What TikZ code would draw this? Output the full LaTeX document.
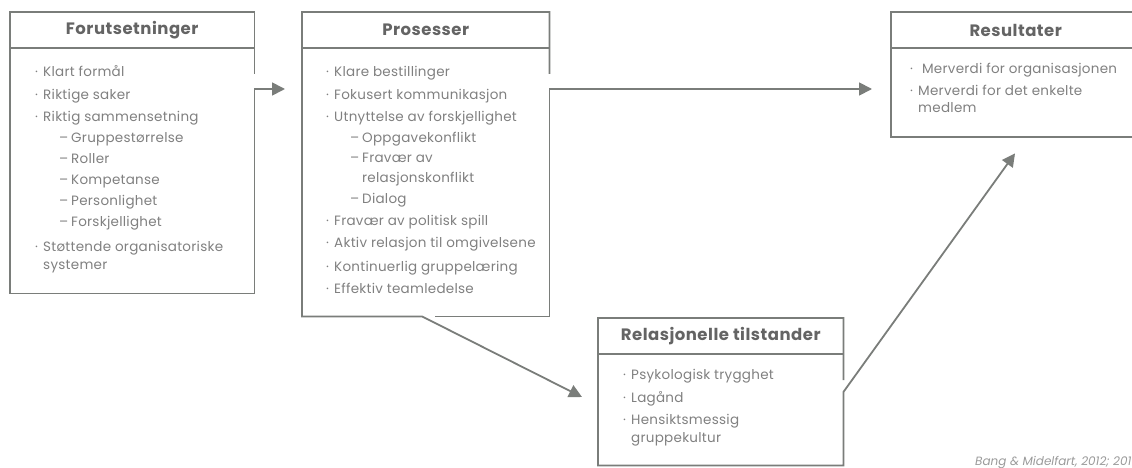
\documentclass[tikz,border=0pt]{standalone}
\usepackage{fontspec}
\setmainfont{Poppins}
\newfontfamily\bodyfont[LetterSpace = 2]{Poppins}
\newfontfamily\headfont[LetterSpace = 3]{Poppins}
\usetikzlibrary{arrows.meta}
\usetikzlibrary{positioning}
\usetikzlibrary{calc}
\definecolor{linegray}{RGB}{122,125,122}
\definecolor{textgray}{RGB}{128,128,128}
\definecolor{headgray}{RGB}{100,100,100}
\tikzstyle{box} = [draw = none, rectangle, inner sep = 0pt, anchor = north west]
\tikzstyle{border} = [linegray, line width = 1.8pt]
\tikzstyle{arrow} = [border, -{Triangle[length = 13pt, width = 13pt]}]
\tikzstyle{head} = [headgray, font = \headfont\fontsize{16.5}{18}\selectfont\bfseries]
\tikzstyle{items} = [textgray, font = \bodyfont\fontsize{13.5}{22.5}\selectfont, anchor = base west, inner sep = 0pt]
\newcommand{\bitem}[1]{\makebox[8pt][l]{·}#1}
\newcommand{\ditem}[1]{\hspace*{24pt}\makebox[12pt][l]{–}#1}
\newcommand{\bcont}[1]{\hspace*{8pt}#1}
\newcommand{\dcont}[1]{\hspace*{36pt}#1}
\newenvironment{itemlist}{\begin{tabular}[t]{@{}l@{}}}{\end{tabular}}

\begin{document}
\begin{tikzpicture}[x = 1pt, y = -1pt]
	
	\clip (0,0) rectangle (1132,468);
	
	% Boxes
	\node[box, minimum width = 244pt, minimum height = 281pt] (forut) at (10,12) {};
	\node[box, minimum width = 247pt, minimum height = 304pt] (proses) at (302,12) {};
	\node[box, minimum width = 249pt, minimum height = 125pt] (result) at (891,12) {};
	\node[box, minimum width = 245pt, minimum height = 147pt] (relasj) at (598,318) {};
	
	% Headers
	\node[head] (forut head) at ($(forut.north) + (0,18)$) {Forutsetninger};
	\node[head] (proses head) at ($(proses.north) + (0,18)$) {Prosesser};
	\node[head] (result head) at ($(result.north) + (0,18)$) {Resultater};
	\node[head] (relasj head) at ($(relasj.north) + (0,18)$) {Relasjonelle tilstander};
	\foreach \b in {forut, proses, result, relasj}
	\draw[border] ($(\b.north west) + (0,36)$) -- ($(\b.north east) + (0,36)$);
	
	% Lists
	\node[items] (forut list) at (35,77) {\begin{itemlist}
		\bitem{Klart formål}\\
		\bitem{Riktige saker}\\
		\bitem{Riktig sammensetning}\\[-1.5pt]
		\ditem{Gruppestørrelse}\\[-1.5pt]
		\ditem{Roller}\\[-1.5pt]
		\ditem{Kompetanse}\\[-1.5pt]
		\ditem{Personlighet}\\[-1.5pt]
		\ditem{Forskjellighet}\\[2.5pt]
		\bitem{Støttende organisatoriske}\\[-4.5pt]
		\bcont{systemer}
	\end{itemlist}};
	\node[items] (proses list) at (326,77) {\begin{itemlist}
		\bitem{Klare bestillinger}\\
		\bitem{Fokusert kommunikasjon}\\
		\bitem{Utnyttelse av forskjellighet}\\[-1.5pt]
		\ditem{Oppgavekonflikt}\\[-3pt]
		\ditem{Fravær av}\\[-2.5pt]
		\dcont{relasjonskonflikt}\\[-1pt]
		\ditem{Dialog}\\[-0.5pt]
		\bitem{Fravær av politisk spill}\\[-0.5pt]
		\bitem{Aktiv relasjon til omgivelsene}\\[1pt]
		\bitem{Kontinuerlig gruppelæring}\\
		\bitem{Effektiv teamledelse}
	\end{itemlist}};
	\node[items] (result list) at (910,74) {\begin{itemlist}
		\bitem{ Merverdi for organisasjonen}\\[-0.5pt]
		\bitem{Merverdi for det enkelte}\\[-5.5pt]
		\bcont{medlem}
	\end{itemlist}};
	\node[items] (relasj list) at (623,379) {\begin{itemlist}
		\bitem{Psykologisk trygghet}\\[0.5pt]
		\bitem{Lagånd}\\[-0.5pt]
		\bitem{Hensiktsmessig}\\[-4.5pt]
		\bcont{gruppekultur}
	\end{itemlist}};
	
	% Gaps in the borders where the arrows leave
	\coordinate (forut gap) at ($(forut.north east) + (0,62)$);
	\coordinate (forut out) at ($(forut.north east) + (0,77)$);
	\coordinate (proses gap) at ($(proses.north east) + (0,62)$);
	\coordinate (proses out) at ($(proses.north east) + (0,77)$);
	\coordinate (proses down) at ($(proses.south west) + (120,0)$);
	\coordinate (proses gap2) at ($(proses.south west) + (133,0)$);
	\coordinate (relasj gap) at ($(relasj.north east) + (0,62)$);
	\coordinate (relasj out) at ($(relasj.north east) + (0,74)$);
	% Arrow ends
	\coordinate (proses in) at ($(proses.north west) + (-17,77)$);
	\coordinate (result in) at ($(result.north west) + (-19,77)$);
	\coordinate (relasj in) at ($(relasj.north west) + (-16,79)$);
	\coordinate (result in2) at ($(result.south west) + (124,16)$);
	
	% Borders running into the arrows
	\draw[arrow] (forut gap) -- (forut.north east) -- (forut.north west) -- (forut.south west) -- (forut.south east) -- (forut out) -- (proses in);
	\draw[arrow] (proses gap) -- (proses.north east) -- (proses.north west) -- (proses.south west) -- (proses down) -- (relasj in);
	\draw[arrow] (proses gap2) -- (proses.south east) -- (proses out) -- (result in);
	\draw[arrow] (relasj gap) -- (relasj.north east) -- (relasj.north west) -- (relasj.south west) -- (relasj.south east) -- (relasj out) -- (result in2);
	\draw[border] (result.north west) rectangle (result.south east);
	
	% Source
	\node[textgray!80, anchor = base west, inner sep = 0pt, font = \fontsize{12}{14}\selectfont\itshape] (source) at (975,465) {Bang \& Midelfart, 2012; 201};
	
\end{tikzpicture}
\end{document}
